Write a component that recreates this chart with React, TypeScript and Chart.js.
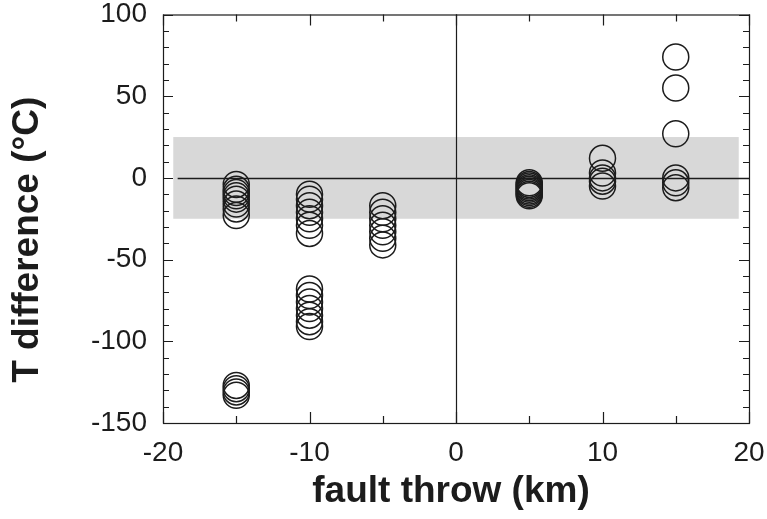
import React, { useEffect, useRef } from "react";
import { Chart, registerables } from "chart.js";

Chart.register(...registerables);

// ---- data ----
const X_RANGE = [-20, 20];
const Y_RANGE = [-150, 100];
const X_TICK_STEP = 10;
const Y_TICK_STEP = 50;
const X_MINOR_STEP = 5;
const Y_MINOR_STEP = 10;

const faultThrowM15 = -15;
const faultThrowM10 = -10;
const faultThrowM5 = -5;
const faultThrowP5 = 5;
const faultThrowP10 = 10;
const faultThrowP15 = 15;

const tDiffM15 = [-4, -7, -9, -11, -13, -16, -19, -23, -127, -129, -131, -133];
const tDiffM10 = [-10, -13, -17, -21, -25, -29, -34, -68, -72, -76, -80, -84, -88, -91];
const tDiffM5 = [-17, -21, -25, -29, -33, -37, -41];
const tDiffP5 = [-3, -4, -5, -6, -7, -8, -9, -10, -11];
const tDiffP10 = [12, 3, 0, -2, -5];
const tDiffP15 = [74, 55, 27, 0, -3, -6];

const bandX = [-19.3, 19.3];
const bandY = [-25, 25];
const zeroLineX = [-19, 20];

const xTitle = "fault throw (km)";
const yTitle = "T difference (°C)";

const FONT = "'Liberation Sans', Arial, Helvetica, sans-serif";
const INK = "#1c1c1c";

function pts(x: number, ys: number[]) {
  return ys.map((y) => ({ x, y }));
}

const decorPlugin = {
  id: "decor",
  beforeDatasetsDraw(chart: any) {
    const { ctx, chartArea: a, scales } = chart;
    const x = scales.x;
    const y = scales.y;
    ctx.save();
    // gray band
    const bx0 = x.getPixelForValue(bandX[0]);
    const bx1 = x.getPixelForValue(bandX[1]);
    const by0 = y.getPixelForValue(bandY[1]);
    const by1 = y.getPixelForValue(bandY[0]);
    ctx.fillStyle = "#d8d8d8";
    ctx.fillRect(bx0, by0, bx1 - bx0, by1 - by0);
    // zero line
    ctx.strokeStyle = INK;
    ctx.lineWidth = 1.6;
    ctx.beginPath();
    const zy = Math.round(y.getPixelForValue(0)) + 0.5;
    ctx.moveTo(x.getPixelForValue(zeroLineX[0]), zy);
    ctx.lineTo(x.getPixelForValue(zeroLineX[1]), zy);
    ctx.stroke();
    // vertical line at 0
    ctx.lineWidth = 1.2;
    ctx.beginPath();
    const zx = Math.round(x.getPixelForValue(0)) + 0.5;
    ctx.moveTo(zx, a.top);
    ctx.lineTo(zx, a.bottom);
    ctx.stroke();
    ctx.restore();
  },
  afterDatasetsDraw(chart: any) {
    const { ctx, chartArea: a, scales } = chart;
    const x = scales.x;
    const y = scales.y;
    ctx.save();
    ctx.strokeStyle = INK;
    ctx.lineWidth = 1.2;
    ctx.strokeRect(a.left + 0.5, a.top + 0.5, a.right - a.left, a.bottom - a.top);
    ctx.beginPath();
    for (let v = Y_RANGE[0]; v <= Y_RANGE[1]; v += Y_MINOR_STEP) {
      const len = v % Y_TICK_STEP === 0 ? 10 : 6;
      const py = Math.round(y.getPixelForValue(v)) + 0.5;
      ctx.moveTo(a.left, py);
      ctx.lineTo(a.left + len, py);
      ctx.moveTo(a.right, py);
      ctx.lineTo(a.right - len, py);
    }
    for (let v = X_RANGE[0]; v <= X_RANGE[1]; v += X_MINOR_STEP) {
      const len = v % X_TICK_STEP === 0 ? 11 : 7;
      const px = Math.round(x.getPixelForValue(v)) + 0.5;
      ctx.moveTo(px, a.bottom);
      ctx.lineTo(px, a.bottom - len);
      ctx.moveTo(px, a.top);
      ctx.lineTo(px, a.top + len);
    }
    ctx.stroke();
    // axis titles
    ctx.fillStyle = INK;
    ctx.font = `bold 37px ${FONT}`;
    ctx.textAlign = "center";
    ctx.textBaseline = "middle";
    ctx.fillText(xTitle, (a.left + a.right) / 2 - 5, a.bottom + 69);
    ctx.translate(a.left - 135, (a.top + a.bottom) / 2 + 21);
    ctx.rotate(-Math.PI / 2);
    ctx.fillText(yTitle, 0, 0);
    ctx.restore();
  },
};

function clearPadding(s: any) {
  s.paddingTop = 0;
  s.paddingBottom = 0;
  s.paddingLeft = 0;
  s.paddingRight = 0;
}

export default function App() {
  const ref = useRef<HTMLCanvasElement | null>(null);
  useEffect(() => {
    document.body.style.margin = "0";
    const canvas = ref.current;
    if (!canvas) return;
    const circle = {
      pointStyle: "circle",
      pointRadius: 13,
      pointHoverRadius: 13,
      pointBorderWidth: 1.5,
      pointBorderColor: INK,
      pointBackgroundColor: "rgba(0,0,0,0)",
      showLine: false,
    };
    const chart = new Chart(canvas, {
      type: "scatter",
      data: {
        datasets: [
          { label: "-15 km", data: pts(faultThrowM15, tDiffM15), ...circle },
          { label: "-10 km", data: pts(faultThrowM10, tDiffM10), ...circle },
          { label: "-5 km", data: pts(faultThrowM5, tDiffM5), ...circle },
          { label: "5 km", data: pts(faultThrowP5, tDiffP5), ...circle },
          { label: "10 km", data: pts(faultThrowP10, tDiffP10), ...circle },
          { label: "15 km", data: pts(faultThrowP15, tDiffP15), ...circle },
        ] as any,
      },
      options: {
        animation: false,
        responsive: false,
        devicePixelRatio: 1,
        layout: { padding: { top: 13, right: 18, left: 0, bottom: 0 } },
        plugins: { legend: { display: false }, tooltip: { enabled: false } },
        scales: {
          x: {
            type: "linear",
            min: X_RANGE[0],
            max: X_RANGE[1],
            grid: { display: false, drawTicks: false },
            border: { display: false },
            ticks: {
              stepSize: X_TICK_STEP,
              padding: 16,
              color: INK,
              font: { family: FONT, size: 28, lineHeight: 1 },
            },
            afterFit: (s: any) => {
              s.height = 96;
              clearPadding(s);
            },
          },
          y: {
            type: "linear",
            min: Y_RANGE[0],
            max: Y_RANGE[1],
            grid: { display: false, drawTicks: false },
            border: { display: false },
            ticks: {
              stepSize: Y_TICK_STEP,
              padding: 16,
              color: INK,
              font: { family: FONT, size: 28, lineHeight: 1 },
            },
            afterFit: (s: any) => {
              s.width = 163;
              clearPadding(s);
            },
          },
        },
      } as any,
      plugins: [decorPlugin],
    });
    return () => chart.destroy();
  }, []);
  return (
    <div style={{ width: 767, height: 519 }}>
      <canvas ref={ref} width={767} height={519} style={{ width: 767, height: 519, display: "block" }} />
    </div>
  );
}
